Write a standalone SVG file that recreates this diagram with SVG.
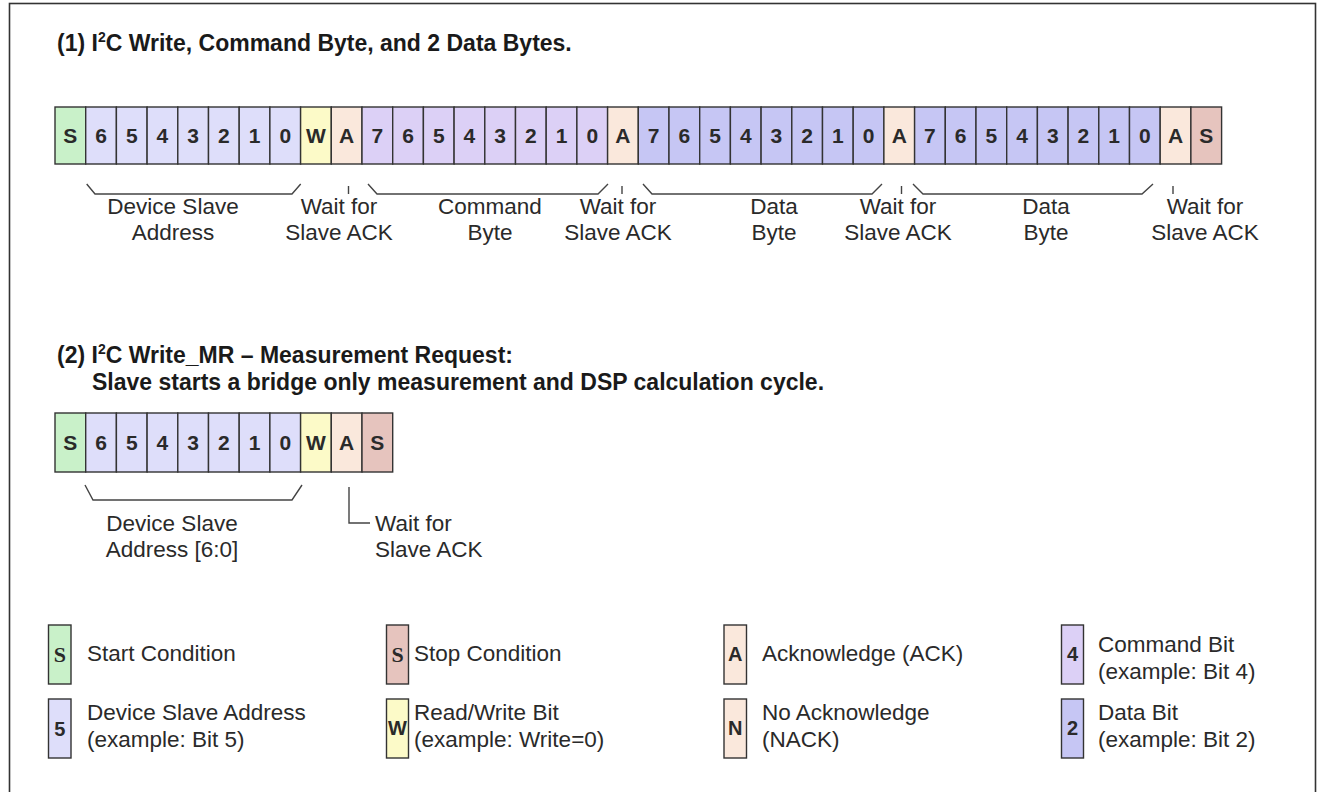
<svg xmlns="http://www.w3.org/2000/svg" width="1321" height="792" viewBox="0 0 1321 792">
<style>
.cell{stroke:#333;stroke-width:1.4}
.st{fill:#c9f1c9}.ad{fill:#dedefa}.rw{fill:#fcfac8}.ak{fill:#fae8dc}.cm{fill:#dcd0f6}.dt{fill:#c6c6f4}.sp{fill:#e6c4be}
.ct{font-family:"Liberation Sans",Arial,sans-serif;font-size:21px;font-weight:bold;fill:#2a2a2a;text-anchor:middle}
.lb{font-family:"Liberation Sans",Arial,sans-serif;font-size:22.5px;fill:#2a2a2a}
.mid{text-anchor:middle}
.ttl{font-family:"Liberation Sans",Arial,sans-serif;font-size:23px;font-weight:bold;fill:#1a1a1a}
.ln{fill:none;stroke:#444;stroke-width:1.4}
.lgt{font-family:"Liberation Sans",Arial,sans-serif;font-size:20px;font-weight:bold;fill:#2a2a2a;text-anchor:middle}
.lgs{font-family:"Liberation Serif","Times New Roman",serif;font-size:22px;font-weight:bold;fill:#2a2a2a;text-anchor:middle}
</style>
<rect x="0" y="0" width="1321" height="792" fill="#ffffff"/>
<rect x="9.5" y="3.5" width="1306" height="800" fill="none" stroke="#333" stroke-width="1.6"/>

<g id="title1"><text class="ttl" x="57" y="51">(1) I<tspan font-size="14" dy="-9">2</tspan><tspan dy="9">C Write, Command Byte, and 2 Data Bytes.</tspan></text></g>

<g id="seq1">
<g id="s1-start"><rect class="cell st" x="55" y="107" width="30.7" height="57"/><text class="ct" x="70.35" y="143">S</text></g>
<g id="s1-addr">
<rect class="cell ad" x="85.7" y="107" width="30.7" height="57"/><text class="ct" x="101.05" y="143">6</text>
<rect class="cell ad" x="116.4" y="107" width="30.7" height="57"/><text class="ct" x="131.75" y="143">5</text>
<rect class="cell ad" x="147.1" y="107" width="30.7" height="57"/><text class="ct" x="162.45" y="143">4</text>
<rect class="cell ad" x="177.8" y="107" width="30.7" height="57"/><text class="ct" x="193.15" y="143">3</text>
<rect class="cell ad" x="208.5" y="107" width="30.7" height="57"/><text class="ct" x="223.85" y="143">2</text>
<rect class="cell ad" x="239.2" y="107" width="30.7" height="57"/><text class="ct" x="254.55" y="143">1</text>
<rect class="cell ad" x="269.9" y="107" width="30.7" height="57"/><text class="ct" x="285.25" y="143">0</text>
</g>
<g id="s1-rw"><rect class="cell rw" x="300.6" y="107" width="30.7" height="57"/><text class="ct" x="315.95" y="143">W</text></g>
<g id="s1-ack1"><rect class="cell ak" x="331.3" y="107" width="30.7" height="57"/><text class="ct" x="346.65" y="143">A</text></g>
<g id="s1-cmd">
<rect class="cell cm" x="362" y="107" width="30.7" height="57"/><text class="ct" x="377.35" y="143">7</text>
<rect class="cell cm" x="392.7" y="107" width="30.7" height="57"/><text class="ct" x="408.05" y="143">6</text>
<rect class="cell cm" x="423.4" y="107" width="30.7" height="57"/><text class="ct" x="438.75" y="143">5</text>
<rect class="cell cm" x="454.1" y="107" width="30.7" height="57"/><text class="ct" x="469.45" y="143">4</text>
<rect class="cell cm" x="484.8" y="107" width="30.7" height="57"/><text class="ct" x="500.15" y="143">3</text>
<rect class="cell cm" x="515.5" y="107" width="30.7" height="57"/><text class="ct" x="530.85" y="143">2</text>
<rect class="cell cm" x="546.2" y="107" width="30.7" height="57"/><text class="ct" x="561.55" y="143">1</text>
<rect class="cell cm" x="576.9" y="107" width="30.7" height="57"/><text class="ct" x="592.25" y="143">0</text>
</g>
<g id="s1-ack2"><rect class="cell ak" x="607.6" y="107" width="30.7" height="57"/><text class="ct" x="622.95" y="143">A</text></g>
<g id="s1-data1">
<rect class="cell dt" x="638.3" y="107" width="30.7" height="57"/><text class="ct" x="653.65" y="143">7</text>
<rect class="cell dt" x="669" y="107" width="30.7" height="57"/><text class="ct" x="684.35" y="143">6</text>
<rect class="cell dt" x="699.7" y="107" width="30.7" height="57"/><text class="ct" x="715.05" y="143">5</text>
<rect class="cell dt" x="730.4" y="107" width="30.7" height="57"/><text class="ct" x="745.75" y="143">4</text>
<rect class="cell dt" x="761.1" y="107" width="30.7" height="57"/><text class="ct" x="776.45" y="143">3</text>
<rect class="cell dt" x="791.8" y="107" width="30.7" height="57"/><text class="ct" x="807.15" y="143">2</text>
<rect class="cell dt" x="822.5" y="107" width="30.7" height="57"/><text class="ct" x="837.85" y="143">1</text>
<rect class="cell dt" x="853.2" y="107" width="30.7" height="57"/><text class="ct" x="868.55" y="143">0</text>
</g>
<g id="s1-ack3"><rect class="cell ak" x="883.9" y="107" width="30.7" height="57"/><text class="ct" x="899.25" y="143">A</text></g>
<g id="s1-data2">
<rect class="cell dt" x="914.6" y="107" width="30.7" height="57"/><text class="ct" x="929.95" y="143">7</text>
<rect class="cell dt" x="945.3" y="107" width="30.7" height="57"/><text class="ct" x="960.65" y="143">6</text>
<rect class="cell dt" x="976" y="107" width="30.7" height="57"/><text class="ct" x="991.35" y="143">5</text>
<rect class="cell dt" x="1006.7" y="107" width="30.7" height="57"/><text class="ct" x="1022.05" y="143">4</text>
<rect class="cell dt" x="1037.4" y="107" width="30.7" height="57"/><text class="ct" x="1052.75" y="143">3</text>
<rect class="cell dt" x="1068.1" y="107" width="30.7" height="57"/><text class="ct" x="1083.45" y="143">2</text>
<rect class="cell dt" x="1098.8" y="107" width="30.7" height="57"/><text class="ct" x="1114.15" y="143">1</text>
<rect class="cell dt" x="1129.5" y="107" width="30.7" height="57"/><text class="ct" x="1144.85" y="143">0</text>
</g>
<g id="s1-ack4"><rect class="cell ak" x="1160.2" y="107" width="30.7" height="57"/><text class="ct" x="1175.55" y="143">A</text></g>
<g id="s1-stop"><rect class="cell sp" x="1190.9" y="107" width="30.7" height="57"/><text class="ct" x="1206.25" y="143">S</text></g>
</g>

<g id="labels1">
<g id="l1-addr"><text class="lb mid" x="173" y="214">Device Slave</text><text class="lb mid" x="173" y="240">Address</text></g>
<g id="l1-ack1"><text class="lb mid" x="339" y="214">Wait for</text><text class="lb mid" x="339" y="240">Slave ACK</text></g>
<g id="l1-cmd"><text class="lb mid" x="490" y="214">Command</text><text class="lb mid" x="490" y="240">Byte</text></g>
<g id="l1-ack2"><text class="lb mid" x="618" y="214">Wait for</text><text class="lb mid" x="618" y="240">Slave ACK</text></g>
<g id="l1-data1"><text class="lb mid" x="774" y="214">Data</text><text class="lb mid" x="774" y="240">Byte</text></g>
<g id="l1-ack3"><text class="lb mid" x="898" y="214">Wait for</text><text class="lb mid" x="898" y="240">Slave ACK</text></g>
<g id="l1-data2"><text class="lb mid" x="1046" y="214">Data</text><text class="lb mid" x="1046" y="240">Byte</text></g>
<g id="l1-ack4"><text class="lb mid" x="1205" y="214">Wait for</text><text class="lb mid" x="1205" y="240">Slave ACK</text></g>
</g>

<g id="title2"><text class="ttl" x="57" y="363">(2) I<tspan font-size="14" dy="-9">2</tspan><tspan dy="9">C Write_MR – Measurement Request:</tspan></text>
<text class="ttl" x="92" y="390">Slave starts a bridge only measurement and DSP calculation cycle.</text></g>

<g id="seq2">
<g id="s2-start"><rect class="cell st" x="55" y="413" width="30.7" height="59"/><text class="ct" x="70.35" y="450">S</text></g>
<g id="s2-addr">
<rect class="cell ad" x="85.7" y="413" width="30.7" height="59"/><text class="ct" x="101.05" y="450">6</text>
<rect class="cell ad" x="116.4" y="413" width="30.7" height="59"/><text class="ct" x="131.75" y="450">5</text>
<rect class="cell ad" x="147.1" y="413" width="30.7" height="59"/><text class="ct" x="162.45" y="450">4</text>
<rect class="cell ad" x="177.8" y="413" width="30.7" height="59"/><text class="ct" x="193.15" y="450">3</text>
<rect class="cell ad" x="208.5" y="413" width="30.7" height="59"/><text class="ct" x="223.85" y="450">2</text>
<rect class="cell ad" x="239.2" y="413" width="30.7" height="59"/><text class="ct" x="254.55" y="450">1</text>
<rect class="cell ad" x="269.9" y="413" width="30.7" height="59"/><text class="ct" x="285.25" y="450">0</text>
</g>
<g id="s2-rw"><rect class="cell rw" x="300.6" y="413" width="30.7" height="59"/><text class="ct" x="315.95" y="450">W</text></g>
<g id="s2-ack"><rect class="cell ak" x="331.3" y="413" width="30.7" height="59"/><text class="ct" x="346.65" y="450">A</text></g>
<g id="s2-stop"><rect class="cell sp" x="362" y="413" width="30.7" height="59"/><text class="ct" x="377.35" y="450">S</text></g>
</g>

<g id="labels2">
<g id="l2-addr"><text class="lb mid" x="172" y="531">Device Slave</text><text class="lb mid" x="172" y="557">Address [6:0]</text></g>
<g id="l2-ack"><text class="lb" x="375" y="531">Wait for</text><text class="lb" x="375" y="557">Slave ACK</text></g>
</g>

<g id="connectors">
<path class="ln" d="M86.7 184 L95 194 L292 194 L300.7 184"/>
<path class="ln" d="M348.5 186 V194"/>
<path class="ln" d="M368 184 L377 194 L598 194 L608 184"/>
<path class="ln" d="M622 186 V194"/>
<path class="ln" d="M643 184 L652 194 L872 194 L882 184"/>
<path class="ln" d="M901.5 186 V194"/>
<path class="ln" d="M913 184 L923 194 L1142 194 L1153 184"/>
<path class="ln" d="M1173 186 V194"/>
<path class="ln" d="M85 485 L93 500 L292 500 L302 485"/>
<path class="ln" d="M349 487 V523 H370"/>
</g>

<g id="legend">
<g id="lg-start"><rect class="cell st" x="48.5" y="625" width="22.5" height="59"/><text class="lgs" x="59.75" y="662">S</text><text class="lb" x="87" y="661">Start Condition</text></g>
<g id="lg-stop"><rect class="cell sp" x="386.5" y="625" width="22" height="59"/><text class="lgs" x="397.5" y="662">S</text><text class="lb" x="414" y="661">Stop Condition</text></g>
<g id="lg-ack"><rect class="cell ak" x="724" y="625" width="22.5" height="59"/><text class="lgt" x="735.25" y="661">A</text><text class="lb" x="762" y="661">Acknowledge (ACK)</text></g>
<g id="lg-cmd"><rect class="cell cm" x="1061.5" y="625" width="22" height="59"/><text class="lgt" x="1072.5" y="661">4</text><text class="lb" x="1098" y="652">Command Bit</text><text class="lb" x="1098" y="679">(example: Bit 4)</text></g>
<g id="lg-addr"><rect class="cell ad" x="48.5" y="699" width="22.5" height="59"/><text class="lgt" x="59.75" y="736" font-weight="normal">5</text><text class="lb" x="87" y="720">Device Slave Address</text><text class="lb" x="87" y="747">(example: Bit 5)</text></g>
<g id="lg-rw"><rect class="cell rw" x="386.5" y="699" width="22" height="59"/><text class="lgt" x="397.5" y="735" font-size="18">W</text><text class="lb" x="414" y="720">Read/Write Bit</text><text class="lb" x="414" y="747">(example: Write=0)</text></g>
<g id="lg-nack"><rect class="cell ak" x="724" y="699" width="22.5" height="59"/><text class="lgt" x="735.25" y="735">N</text><text class="lb" x="762" y="720">No Acknowledge</text><text class="lb" x="762" y="747">(NACK)</text></g>
<g id="lg-data"><rect class="cell dt" x="1061.5" y="699" width="22" height="59"/><text class="lgt" x="1072.5" y="735">2</text><text class="lb" x="1098" y="720">Data Bit</text><text class="lb" x="1098" y="747">(example: Bit 2)</text></g>
</g>
</svg>
